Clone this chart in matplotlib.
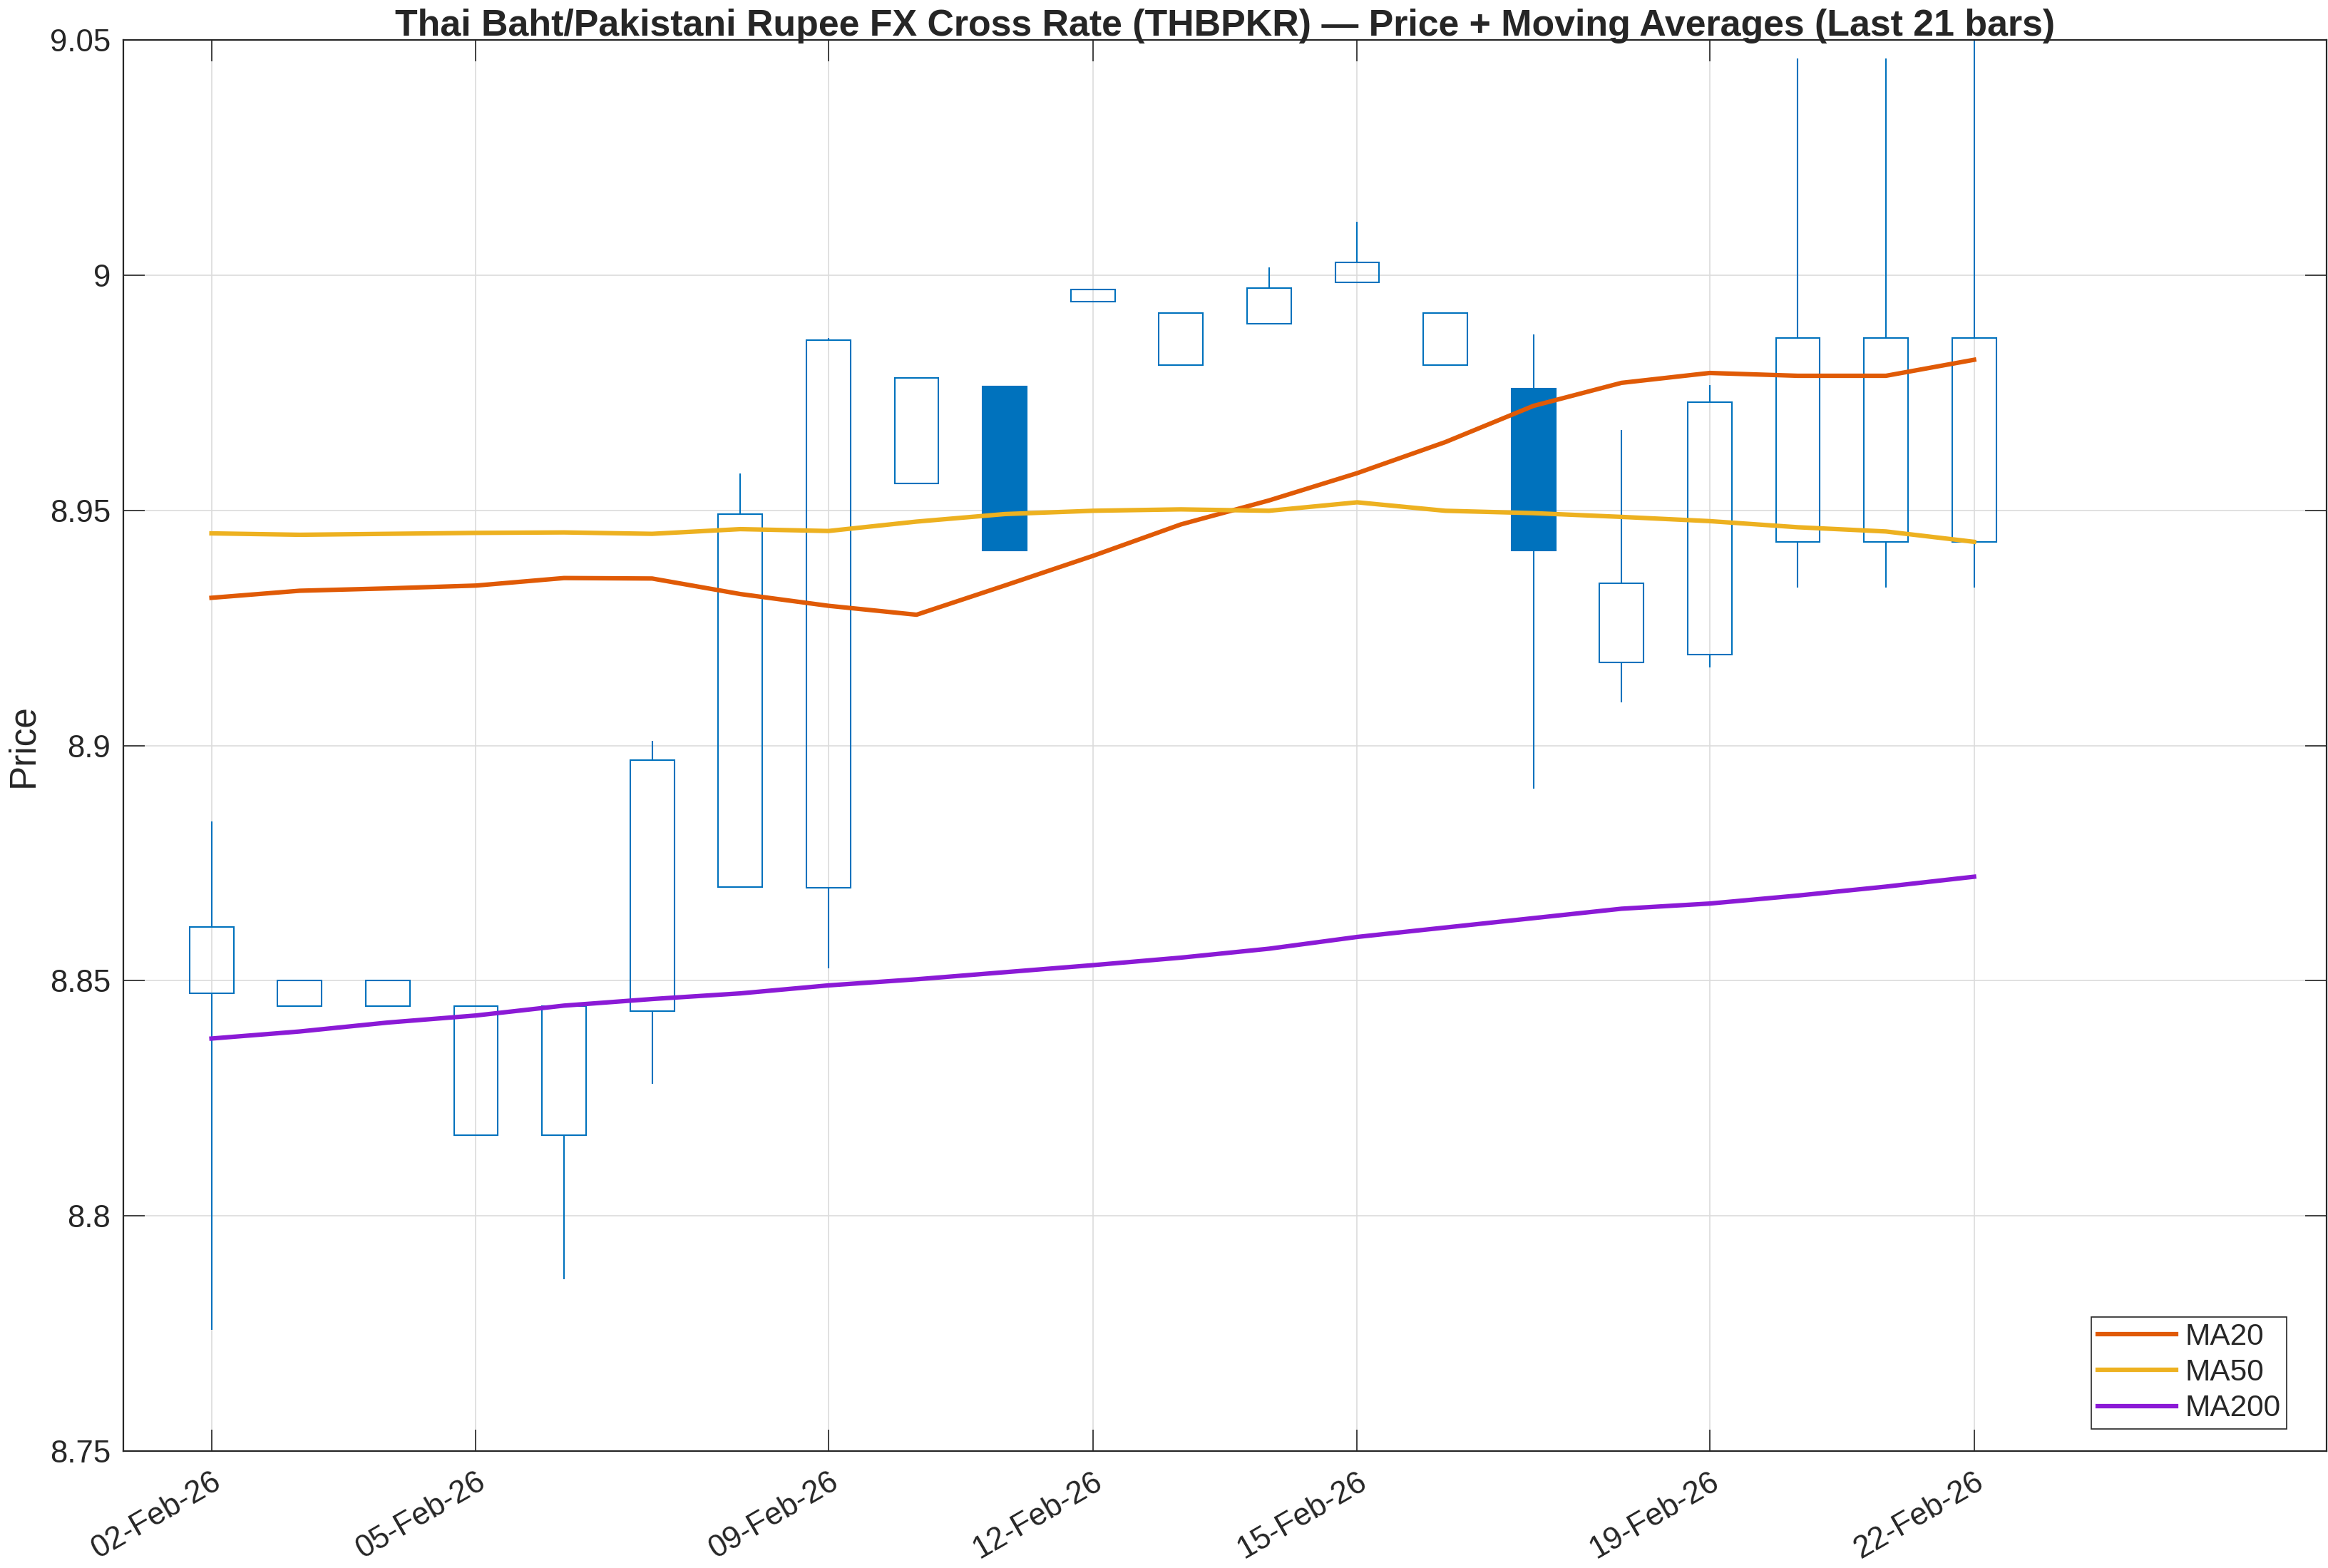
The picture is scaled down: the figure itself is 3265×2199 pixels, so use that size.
import matplotlib
matplotlib.use('Agg')
import matplotlib.pyplot as plt
import matplotlib.dates as mdates
from matplotlib.ticker import FuncFormatter, MultipleLocator
import datetime as dt

plt.rcParams['font.family'] = ['Liberation Sans', 'DejaVu Sans']

# ---------------- data ----------------
dates = [dt.date(2026, 2, d) for d in range(2, 23)]
opens = [8.8473, 8.8446, 8.8446, 8.8171, 8.8171, 8.8435, 8.8699, 8.8697, 8.9557, 8.9764, 8.9944,
         8.9808, 8.9897, 8.9985, 8.9808, 8.9758, 8.9176, 8.9193, 8.9433, 8.9433, 8.9433]
closes = [8.8614, 8.8500, 8.8500, 8.8446, 8.8446, 8.8969, 8.9492, 8.9862, 8.9781, 8.9414, 8.9969,
          8.9920, 8.9973, 9.0027, 8.9920, 8.9414, 8.9345, 8.9730, 8.9866, 8.9866, 8.9866]
highs = [8.8838, 8.8500, 8.8500, 8.8446, 8.8446, 8.9010, 8.9578, 8.9866, 8.9781, 8.9764, 8.9969,
         8.9920, 9.0016, 9.0113, 8.9920, 8.9874, 8.9671, 8.9766, 9.0461, 9.0461, 9.0560]
lows = [8.7757, 8.8446, 8.8446, 8.8171, 8.7865, 8.8280, 8.8697, 8.8527, 8.9557, 8.9414, 8.9944,
        8.9808, 8.9897, 8.9985, 8.9808, 8.8909, 8.9092, 8.9166, 8.9336, 8.9336, 8.9336]
ma20 = [8.9314, 8.9329, 8.9334, 8.9340, 8.9356, 8.9355, 8.9322, 8.9297, 8.9278, 8.9340, 8.9403,
        8.9470, 8.9521, 8.9579, 8.9645, 8.9722, 8.9771, 8.9792, 8.9786, 8.9786, 8.9820]
ma50 = [8.9451, 8.9448, 8.9450, 8.9452, 8.9453, 8.9450, 8.9460, 8.9456, 8.9476, 8.9492, 8.9499,
        8.9502, 8.9499, 8.9517, 8.9499, 8.9494, 8.9486, 8.9477, 8.9464, 8.9455, 8.9433]
ma200 = [8.8377, 8.8392, 8.8411, 8.8426, 8.8447, 8.8461, 8.8473, 8.8490, 8.8503, 8.8518, 8.8533,
         8.8549, 8.8568, 8.8593, 8.8613, 8.8633, 8.8653, 8.8664, 8.8681, 8.8700, 8.8721]
xtick_dates = [dt.date(2026, 2, d) for d in (2, 5, 9, 12, 15, 19, 22)]
title = 'Thai Baht/Pakistani Rupee FX Cross Rate (THBPKR) \u2014 Price + Moving Averages (Last 21 bars)'

# ---------------- style ----------------
BLUE = '#0072BD'
C20, C50, C200 = '#E05A06', '#EDB120', '#8B1AD6'
DARK = '#262626'

W, H = 3266, 2199
fig = plt.figure(figsize=(W / 100, H / 100), dpi=100)
L, R, T, B = 173, 3263, 56, 2035
ax = fig.add_axes([L / W, 1 - B / H, (R - L) / W, (B - T) / H])

x = mdates.date2num(dates)
box_lo = [min(o, c) for o, c in zip(opens, closes)]
box_hi = [max(o, c) for o, c in zip(opens, closes)]
heights = [h - l for h, l in zip(box_hi, box_lo)]
faces = [BLUE if c < o else (1, 1, 1, 0) for o, c in zip(opens, closes)]

ax.vlines(x, box_hi, highs, color=BLUE, linewidth=1.5, zorder=2)
ax.vlines(x, lows, box_lo, color=BLUE, linewidth=1.5, zorder=2)
ax.bar(x, heights, bottom=box_lo, width=0.5, color=faces, edgecolor=BLUE, linewidth=1.5, zorder=2)

ax.plot(x, ma20, color=C20, linewidth=4.5, label='MA20', zorder=3)
ax.plot(x, ma50, color=C50, linewidth=4.5, label='MA50', zorder=3)
ax.plot(x, ma200, color=C200, linewidth=4.5, label='MA200', zorder=3)

ax.set_xlim(mdates.date2num(dt.date(2026, 2, 1)), mdates.date2num(dt.date(2026, 2, 26)))
ax.set_ylim(8.75, 9.05)
ax.yaxis.set_major_locator(MultipleLocator(0.05))
ax.yaxis.set_major_formatter(FuncFormatter(lambda v, p: '%g' % round(v, 4)))
ax.set_xticks(mdates.date2num(xtick_dates))
ax.xaxis.set_major_formatter(mdates.DateFormatter('%d-%b-%y'))

ax.grid(True, color='#dcdcdc', linewidth=1.2)
ax.set_axisbelow(True)
for s in ax.spines.values():
    s.set_color(DARK)
    s.set_linewidth(1.6)

ax.tick_params(axis='both', direction='in', length=21.5, width=1.2, colors=DARK,
               labelsize=31.5, top=True, right=True)
ax.tick_params(axis='y', pad=13)
ax.tick_params(axis='x', pad=16)
for lab in ax.get_xticklabels():
    lab.set_rotation(30)
    lab.set_ha('right')
    lab.set_rotation_mode('anchor')

ax.set_ylabel('Price', fontsize=37, color=DARK)
ax.yaxis.set_label_coords(-0.0375, 0.5)
ax.set_title(title, fontsize=37.4, fontweight='bold', color=DARK, pad=4)

leg = ax.legend(loc='lower right', bbox_to_anchor=(0.9819, 0.0157), borderaxespad=0,
                fontsize=30.5, fancybox=False, framealpha=1, edgecolor=DARK,
                borderpad=0.2, labelspacing=0.24, handlelength=2.6, handletextpad=0.3)
leg.get_frame().set_linewidth(1.2)
for t in leg.get_texts():
    t.set_color(DARK)

fig.savefig('out.png', dpi=100)
